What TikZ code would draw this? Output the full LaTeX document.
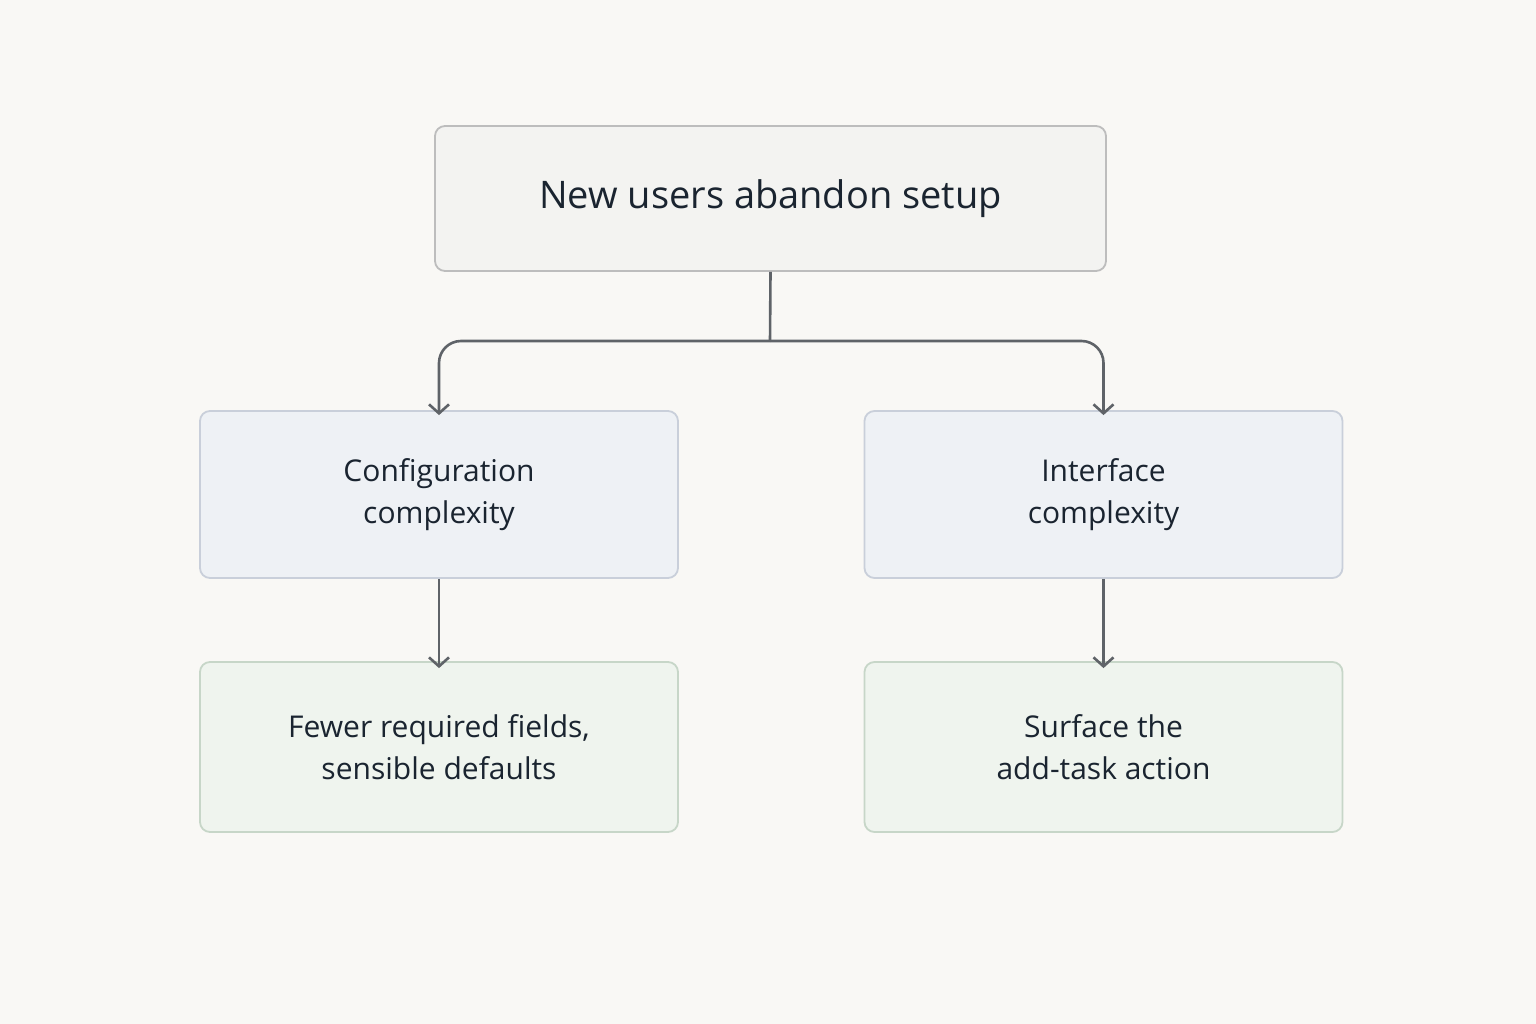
\documentclass[tikz,border=0pt]{standalone}
\usepackage{fontspec}
\setmainfont{Open Sans}
\usetikzlibrary{arrows.meta,positioning}
\definecolor{pagebg}{HTML}{F9F8F5}
\definecolor{rootfill}{HTML}{F3F3F1}
\definecolor{rootline}{HTML}{BDBDBD}
\definecolor{causefill}{HTML}{EEF1F5}
\definecolor{causeline}{HTML}{C9CFDA}
\definecolor{fixfill}{HTML}{EFF4EE}
\definecolor{fixline}{HTML}{C7D6C8}
\definecolor{inktext}{HTML}{1A2430}
\definecolor{linkgray}{HTML}{5F6368}

\tikzset{
    box/.style={draw, rounded corners=10pt, line width=1.8pt, align=center, text=inktext, inner sep=0pt},
    rootbox/.style={box, fill=rootfill, draw=rootline, minimum width=671pt, minimum height=145pt, font=\fontsize{38}{46}\selectfont},
    causebox/.style={box, fill=causefill, draw=causeline, minimum width=478pt, minimum height=167pt, font=\fontsize{30}{42}\selectfont},
    fixbox/.style={box, fill=fixfill, draw=fixline, minimum width=478pt, minimum height=170pt, font=\fontsize{30}{42}\selectfont},
    link/.style={draw=linkgray, line width=2.6pt, -{Straight Barb[length=9pt,width=20pt,line width=2.6pt]}}
}

\begin{document}
\begin{tikzpicture}[x=1pt,y=-1pt]
    % Canvas
    \fill[pagebg] (0,0) rectangle (1536,1024);
    \useasboundingbox (0,0) rectangle (1536,1024);

    % Problem
    \node[rootbox] (root) at (770.5,198.5) {New users abandon setup};

    % Causes
    \node[causebox] (config) at (439,494.5) {Configuration\\complexity};
    \node[causebox] (iface) at (1103.5,494.5) {Interface\\complexity};

    % Fixes
    \node[fixbox] (fewer) at (439,747) {Fewer required fields,\\sensible defaults};
    \node[fixbox] (surface) at (1103.5,747) {Surface the\\add-task action};

    % Links
    \coordinate (split) at (770,341);
    \draw[line width=2.6pt, draw=linkgray] (root.south) -- (split);
    \draw[link, rounded corners=22pt] (split) -| ([yshift=-5pt]config.north);
    \draw[link, rounded corners=22pt] (split) -| ([yshift=-5pt]iface.north);
    \draw[link] (config.south) -- ([yshift=-7pt]fewer.north);
    \draw[link] (iface.south) -- ([yshift=-7pt]surface.north);
\end{tikzpicture}
\end{document}
